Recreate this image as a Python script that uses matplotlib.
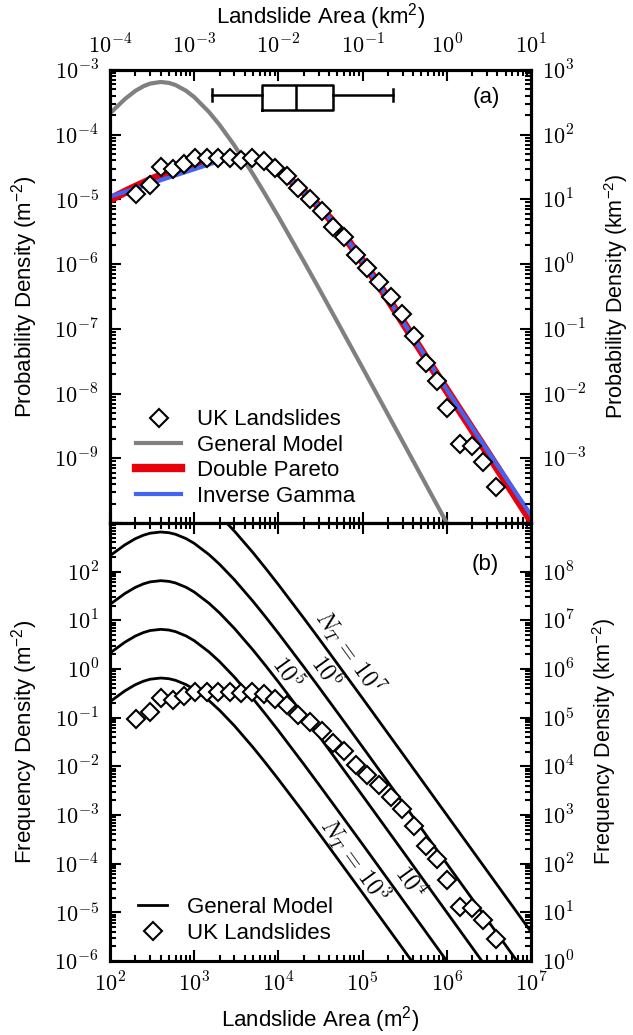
import numpy as np
import matplotlib
matplotlib.use("Agg")
import matplotlib.pyplot as plt
from matplotlib.ticker import LogLocator, FixedLocator, FixedFormatter, NullFormatter

plt.rcParams['font.family'] = ['Liberation Sans', 'DejaVu Sans']
plt.rcParams['mathtext.fontset'] = 'cm'
plt.rcParams['mathtext.rm'] = 'Liberation Sans'
plt.rcParams['mathtext.it'] = 'Liberation Sans:italic'
plt.rcParams['axes.linewidth'] = 2.2

# --- data -----------------------------------------------------------------
# UK landslide inventory, binned probability density (m^-2)
uk_area = [204, 299, 400, 556, 757, 1030, 1406, 1901, 2636, 3597, 4898, 6683,
           9183, 12760, 17260, 23740, 32660, 44870, 60670, 83560, 113800,
           155200, 217300, 293800, 405500, 561000, 758600, 998000, 1435000,
           1991000, 2716000, 3802000]
uk_pdf = [1.20e-5, 1.67e-5, 3.21e-5, 2.92e-5, 3.56e-5, 4.42e-5, 4.42e-5,
          4.42e-5, 4.42e-5, 4.06e-5, 4.32e-5, 3.97e-5, 3.03e-5, 2.30e-5,
          1.48e-5, 1.03e-5, 6.68e-6, 3.79e-6, 2.65e-6, 1.38e-6, 8.61e-7,
          5.28e-7, 3.07e-7, 1.69e-7, 7.74e-8, 2.99e-8, 1.58e-8, 5.90e-9,
          1.66e-9, 1.56e-9, 8.83e-10, 3.63e-10]
uk_count = 7800  # number of mapped landslides (frequency = count * pdf)

# general (Malamud) model, probability density (m^-2)
gm_area = [100, 150, 200, 250, 300, 400, 500, 600, 800, 1000, 1500, 2000, 3000,
           5000, 7000, 1e4, 2e4, 3e4, 5e4, 1e5, 3e5, 1e6, 3e6, 1e7]
gm_pdf = [2.13e-4, 3.55e-4, 4.76e-4, 5.62e-4, 6.17e-4, 6.53e-4, 6.32e-4,
          5.86e-4, 4.78e-4, 3.82e-4, 2.24e-4, 1.42e-4, 6.83e-5, 2.45e-5,
          1.19e-5, 5.41e-6, 1.11e-6, 4.31e-7, 1.29e-7, 2.49e-8, 1.80e-9,
          1.00e-10, 7.16e-12, 3.98e-13]

# fitted double Pareto (m^-2)
dp_area = [100, 178, 316, 562, 1000, 1778, 3162, 5623, 1e4, 17780, 31620,
           56230, 1e5, 177800, 316200, 1e6, 3162000, 1e7]
dp_pdf = [1.00e-5, 1.45e-5, 2.05e-5, 2.80e-5, 3.60e-5, 4.25e-5, 4.50e-5,
          4.20e-5, 2.88e-5, 1.51e-5, 7.41e-6, 3.16e-6, 1.10e-6, 3.70e-7,
          1.15e-7, 1.12e-8, 1.12e-9, 1.10e-10]

# fitted inverse gamma (m^-2)
ig_area = [100, 1660, 2512, 3981, 5623, 1e4, 17780, 31620, 56230, 1e5,
           177800, 316200, 1e6, 3162000, 1e7]
ig_pdf = [1.10e-5, 3.63e-5, 4.30e-5, 4.50e-5, 4.22e-5, 2.88e-5, 1.51e-5,
          7.41e-6, 3.16e-6, 1.11e-6, 3.75e-7, 1.17e-7, 1.15e-8, 1.22e-9,
          1.32e-10]

# box plot of UK landslide areas (m^2)
box_stats = [1620, 6470, 16100, 45100, 230800]  # whislo, q1, med, q3, whishi

# total landslide numbers for the frequency-density curves
n_total = [1e3, 1e4, 1e5, 1e6, 1e7]
n_labels = [r'$N_T\,=\,10^3$', r'$10^4$', r'$10^5$', r'$10^6$', r'$N_T\,=\,10^7$']
n_label_pos = [(81300, 1.19e-4), (365500, 4.2e-5), (12650, 0.83),
               (36700, 0.87), (70800, 2.24)]

# --- figure ----------------------------------------------------------------
W, H = 633, 1035
fig = plt.figure(figsize=(W / 100, H / 100), dpi=100)
ax1 = fig.add_axes([110 / W, 1 - 523 / H, 421 / W, 453 / H])
ax2 = fig.add_axes([110 / W, 1 - 961 / H, 421 / W, 438 / H])

fs = 16
tfs = 16


def style_log(ax, axis, lo, hi, shown, labels_on=True):
    a = ax.xaxis if axis == 'x' else ax.yaxis
    a.set_major_locator(FixedLocator([10.0 ** e for e in range(lo, hi + 1)]))
    a.set_minor_locator(LogLocator(base=10, subs=np.arange(2, 10), numticks=100))
    if labels_on:
        a.set_major_formatter(FixedFormatter(
            [r'$10^{%d}$' % e if e in shown else '' for e in range(lo, hi + 1)]))
    else:
        a.set_major_formatter(NullFormatter())
    a.set_minor_formatter(NullFormatter())


def ticks(ax, **kw):
    ax.tick_params(which='both', direction='in', width=1.5, **kw)
    ax.tick_params(which='major', length=8, pad=8, labelsize=tfs)
    ax.tick_params(which='minor', length=4.5)


# ---- panel (a) ----
ax1.set_xscale('log')
ax1.set_yscale('log')
ax1.set_xlim(1e2, 1e7)
ax1.set_ylim(1e-10, 1e-3)
ax1.plot(gm_area, gm_pdf, color='#808080', lw=3, label='General Model', zorder=2)
ax1.plot(dp_area, dp_pdf, color='#e8000b', lw=6, label='Double Pareto', zorder=3)
ax1.plot(ig_area, ig_pdf, color='#4264f2', lw=3, label='Inverse Gamma', zorder=4)
ax1.plot(uk_area, uk_pdf, 'D', ms=9.5, mfc='white', mec='black', mew=1.5,
         ls='none', label='UK Landslides', zorder=5)

ax1.bxp([dict(whislo=box_stats[0], q1=box_stats[1], med=box_stats[2],
              q3=box_stats[3], whishi=box_stats[4], fliers=[])],
        positions=[4.135e-4], widths=[3.45e-4], vert=False, showfliers=False,
        manage_ticks=False,
        boxprops=dict(color='black', lw=1.8),
        whiskerprops=dict(color='black', lw=1.8),
        capprops=dict(color='black', lw=1.8),
        medianprops=dict(color='black', lw=1.8))

style_log(ax1, 'x', 2, 7, [], labels_on=False)
style_log(ax1, 'y', -10, -3, range(-9, -2))
ticks(ax1, top=False, right=False, bottom=True, left=True)
ax1.set_ylabel(r'Probability Density (m$^{\mathrm{-2}}$)', fontsize=fs,
               math_fontfamily='custom', labelpad=10)
ax1.text(0.895, 0.94, '(a)', transform=ax1.transAxes, fontsize=fs,
         ha='center', va='center')

h, l = ax1.get_legend_handles_labels()
order = [3, 0, 1, 2]
ax1.legend([h[i] for i in order], [l[i] for i in order], loc='lower left',
           bbox_to_anchor=(0.015, -0.008), frameon=False, fontsize=fs,
           numpoints=1, handlelength=2.0, labelspacing=0.2, handletextpad=0.75)

ax1t = ax1.twiny()
ax1t.set_xscale('log')
ax1t.set_xlim(1e-4, 1e1)
style_log(ax1t, 'x', -4, 1, range(-4, 2))
ticks(ax1t, top=True, bottom=False)
ax1t.set_xlabel(r'Landslide Area (km$^{\mathrm{2}}$)', fontsize=fs,
                labelpad=8, math_fontfamily='custom')

ax1r = ax1.twinx()
ax1r.set_yscale('log')
ax1r.set_ylim(1e-4, 1e3)
style_log(ax1r, 'y', -4, 3, range(-3, 4))
ticks(ax1r, right=True, left=False)
ax1r.set_ylabel(r'Probability Density (km$^{\mathrm{-2}}$)', fontsize=15.5,
                math_fontfamily='custom', labelpad=11)

# ---- panel (b) ----
ax2.set_xscale('log')
ax2.set_yscale('log')
ax2.set_xlim(1e2, 1e7)
ax2.set_ylim(1e-6, 1e3)
gm = np.array(gm_pdf)
for k, nt in enumerate(n_total):
    ax2.plot(gm_area, gm * nt, color='black', lw=2,
             label='General Model' if k == 0 else None, zorder=2)
ax2.plot(uk_area, np.array(uk_pdf) * uk_count, 'D', ms=9.5, mfc='white',
         mec='black', mew=1.5, ls='none', label='UK Landslides', zorder=5)
for txt, (x, y) in zip(n_labels, n_label_pos):
    ax2.text(x, y, txt, rotation=-54, rotation_mode='anchor', ha='center',
             va='center', fontsize=17)

style_log(ax2, 'x', 2, 7, range(2, 8))
style_log(ax2, 'y', -6, 3, range(-6, 3))
ticks(ax2, top=True, right=False, bottom=True, left=True)
ax2.set_xlabel(r'Landslide Area (m$^{\mathrm{2}}$)', fontsize=fs,
               math_fontfamily='custom', labelpad=6)
ax2.set_ylabel(r'Frequency Density (m$^{\mathrm{-2}}$)', fontsize=fs,
               math_fontfamily='custom', labelpad=10)
ax2.text(0.891, 0.906, '(b)', transform=ax2.transAxes, fontsize=fs,
         ha='center', va='center')
ax2.legend(loc='lower left', bbox_to_anchor=(0.02, -0.006), frameon=False,
           fontsize=fs, numpoints=1, handlelength=1.3, labelspacing=0.2,
           handletextpad=0.9)

ax2r = ax2.twinx()
ax2r.set_yscale('log')
ax2r.set_ylim(1e0, 1e9)
style_log(ax2r, 'y', 0, 9, range(0, 9))
ticks(ax2r, right=True, left=False)
ax2r.set_ylabel(r'Frequency Density (km$^{\mathrm{-2}}$)', fontsize=15.5,
                math_fontfamily='custom', labelpad=11)

fig.savefig('out.png', dpi=100)
